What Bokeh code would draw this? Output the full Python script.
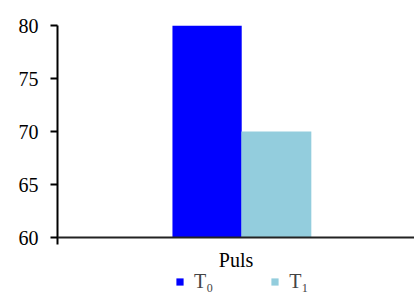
from bokeh.plotting import figure
from bokeh.models import ColumnDataSource, FactorRange, Range1d, Legend, LegendItem, Span
from bokeh.transform import dodge
from bokeh.embed import file_html
from bokeh.resources import INLINE

categories = ["Puls"]
series_names = ["T\u2080", "T\u2081"]
t0_values = [80]
t1_values = [70]
colors = ["#0000FF", "#93CDDD"]
y_ticks = [60, 65, 70, 75, 80]
y_min, y_max = 60, 80

# frame: top 25px, axis baseline at 237px, canvas bottom at 295px
frame_h = 270
axis_px = 212
y_start = y_min - (y_max - y_min) * (frame_h - axis_px) / axis_px
axis_overhang = (y_max - y_min) * 7 / axis_px

src = ColumnDataSource(dict(cat=categories, t0=t0_values, t1=t1_values,
                            base=[y_min] * len(categories)))

p = figure(x_range=FactorRange(*categories), y_range=Range1d(y_start, y_max),
           frame_width=357, frame_height=frame_h, x_axis_location=None,
           min_border_left=57, min_border_right=0, min_border_top=25, min_border_bottom=0,
           output_backend="svg", toolbar_location=None)

r0 = p.vbar(x=dodge("cat", -0.081, range=p.x_range), top="t0", bottom=y_min, width=0.194,
            source=src, color=colors[0], line_color=None)
r1 = p.vbar(x=dodge("cat", 0.113, range=p.x_range), top="t1", bottom=y_min, width=0.196,
            source=src, color=colors[1], line_color=None)

font = "Liberation Serif"
# category axis line and label
p.add_layout(Span(location=y_min, dimension="width", line_color="#222222", line_width=2))
p.text(x="cat", y="base", text="cat", source=src, text_font={"value": font},
       text_font_size="20px", text_color="black", text_align="center",
       text_baseline="top", y_offset=11)

p.xgrid.visible = False
p.ygrid.visible = False
p.outline_line_color = None
p.background_fill_color = "white"

p.yaxis.ticker = y_ticks
p.yaxis.bounds = (y_min - axis_overhang, y_max)
p.yaxis.minor_tick_line_color = None
p.yaxis.major_tick_in = 0
p.yaxis.major_tick_out = 7
p.yaxis.major_label_text_font = font
p.yaxis.major_label_text_font_size = "20px"
p.yaxis.major_label_text_color = "black"
p.yaxis.major_label_standoff = 12
p.yaxis.axis_line_width = 2
p.yaxis.major_tick_line_width = 2
p.yaxis.axis_line_color = "black"

legend = Legend(items=[LegendItem(label=series_names[0], renderers=[r0]),
                       LegendItem(label=series_names[1], renderers=[r1])],
                orientation="horizontal", location=(118, 2),
                glyph_width=9, glyph_height=9, label_standoff=10, label_width=0,
                spacing=57, padding=0, margin=0, border_line_color=None,
                background_fill_alpha=0,
                label_text_font=font, label_text_font_size="20px", label_height=20)
p.add_layout(legend, "center")

open("out.html", "w").write(file_html(p, INLINE))
